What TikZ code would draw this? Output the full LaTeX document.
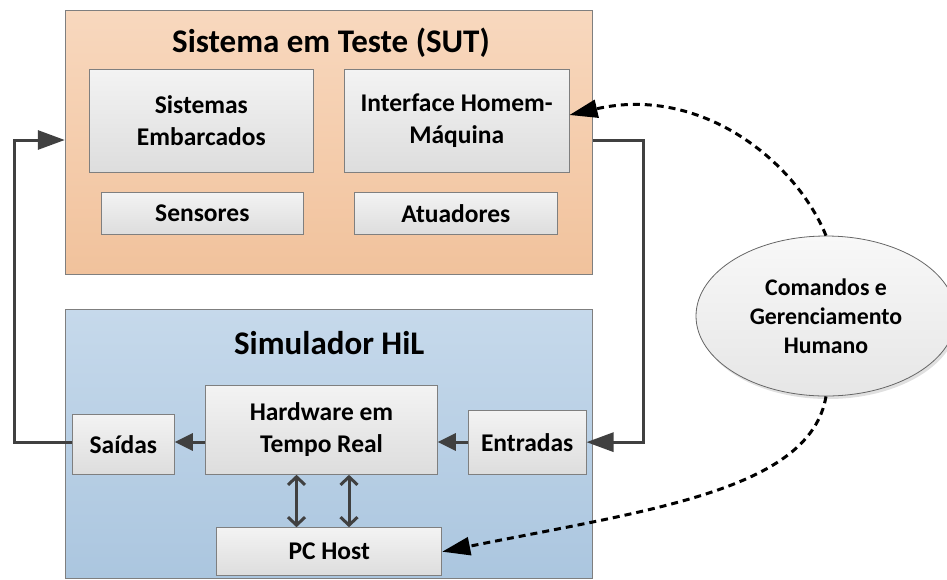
\documentclass[tikz,border=0pt]{standalone}
\usepackage{fontspec}
\setmainfont{Carlito}
\usetikzlibrary{arrows.meta,shadows,shapes.geometric}
\definecolor{sutTop}{HTML}{F8D8BE}
\definecolor{sutBot}{HTML}{F1C29C}
\definecolor{hilTop}{HTML}{C6D9EB}
\definecolor{hilBot}{HTML}{ABC6DF}
\definecolor{boxTop}{HTML}{F3F3F3}
\definecolor{boxBot}{HTML}{DDDDDD}
\definecolor{ellTop}{HTML}{F8F8F8}
\definecolor{ellBot}{HTML}{E6E6E6}
\definecolor{bordGray}{HTML}{7F7F7F}
\definecolor{connGray}{HTML}{404040}
\begin{document}
\begin{tikzpicture}[x=1pt,y=-1pt,
  outerbox/.style={draw=bordGray, line width=1pt, inner sep=0pt},
  inbox/.style={draw=bordGray, line width=1pt, top color=boxTop, bottom color=boxBot,
    font=\fontsize{25.5}{32.4}\selectfont\bfseries, align=center, inner sep=0pt},
  titletext/.style={font=\fontsize{33}{40}\selectfont\bfseries, anchor=base, inner sep=0pt},
  conn/.style={draw=connGray, line width=3pt, -{Triangle[length=18pt,width=17pt]}},
  bigconn/.style={draw=connGray, line width=3pt, -{Triangle[length=27pt,width=19pt]}},
  dblconn/.style={draw=connGray, line width=3pt,
    {Straight Barb[length=8pt,width=17pt]}-{Straight Barb[length=8pt,width=17pt]}},
  dasharrow/.style={draw=black, line width=3pt, dash pattern=on 7pt off 5pt,
    -{Triangle[length=28pt,width=18pt]}}
]
\useasboundingbox (0,0) rectangle (947,579);

% outer boxes
\node[outerbox, top color=sutTop, bottom color=sutBot, minimum width=527.4pt, minimum height=263.6pt] (sut) at (329,142.5) {};
\node[outerbox, top color=hilTop, bottom color=hilBot, minimum width=527.4pt, minimum height=269pt] (hil) at (329,443.5) {};
\node[titletext] (suttitle) at (331,52.3) {Sistema em Teste (SUT)};
\node[titletext] (hiltitle) at (329.2,354) {Simulador HiL};

% SUT inner boxes
\node[inbox, minimum width=224.7pt, minimum height=103pt] (emb) at (201.35,120.8) {Sistemas\\Embarcados};
\node[inbox, minimum width=224.7pt, minimum height=103pt] (ihm) at (456.65,120.8) {Interface Homem-\\Máquina};
\node[inbox, minimum width=202.7pt, minimum height=42pt] (sen) at (202.35,213.3) {Sensores};
\node[inbox, minimum width=203pt, minimum height=42pt] (atu) at (455.8,213.3) {Atuadores};

% HiL inner boxes
\node[inbox, minimum width=231.6pt, minimum height=89.3pt] (hw) at (321.5,429.65) {Hardware em\\Tempo Real};
\node[inbox, minimum width=102pt, minimum height=60.3pt] (sai) at (123.3,444.15) {Saídas};
\node[inbox, minimum width=117.7pt, minimum height=64.3pt] (ent) at (527.15,442.15) {Entradas};
\node[inbox, minimum width=225pt, minimum height=48pt] (pc) at (329.2,551.7) {PC Host};

% human commands ellipse
\node[ellipse, draw=black!60, line width=0.8pt, top color=ellTop, bottom color=ellBot,
  minimum width=260pt, minimum height=160pt, inner sep=0pt, align=center,
  font=\fontsize{23.8}{29}\selectfont\bfseries,
  drop shadow={shadow xshift=2pt, shadow yshift=-3pt, opacity=0.12, fill=black}] (ell) at (826,316)
  {Comandos e\\Gerenciamento\\Humano};

% helper coordinates
\coordinate (ly) at (0,140);
\coordinate (lx) at (14,0);
\coordinate (rx) at (643.3,0);
\coordinate (ay) at (0,442);
\coordinate (ty) at (0,115);

% loop connectors
\draw[bigconn] (sai.west |- ay) -- (lx |- ay) -- (lx |- ly) -- (sut.west |- ly);
\draw[bigconn] (sut.east |- ly) -- (rx |- ly) -- (rx |- ent.east) -- (ent.east);

% internal connectors
\draw[conn] (hw.west |- ay) -- (sai.east |- ay);
\draw[conn] (ent.west |- ay) -- (hw.east |- ay);
\draw[dblconn] ([xshift=-25pt]hw.south) -- ([xshift=-25pt]hw.south |- pc.north);
\draw[dblconn] ([xshift=27.5pt]hw.south) -- ([xshift=27.5pt]hw.south |- pc.north);

% dashed human interaction
\draw[dasharrow] (ell.north) .. controls (795,160) and (700,85) .. (ihm.east |- ty);
\draw[dasharrow] (ell.south) .. controls (810,490) and (650,510) .. (pc.east);
\end{tikzpicture}
\end{document}
